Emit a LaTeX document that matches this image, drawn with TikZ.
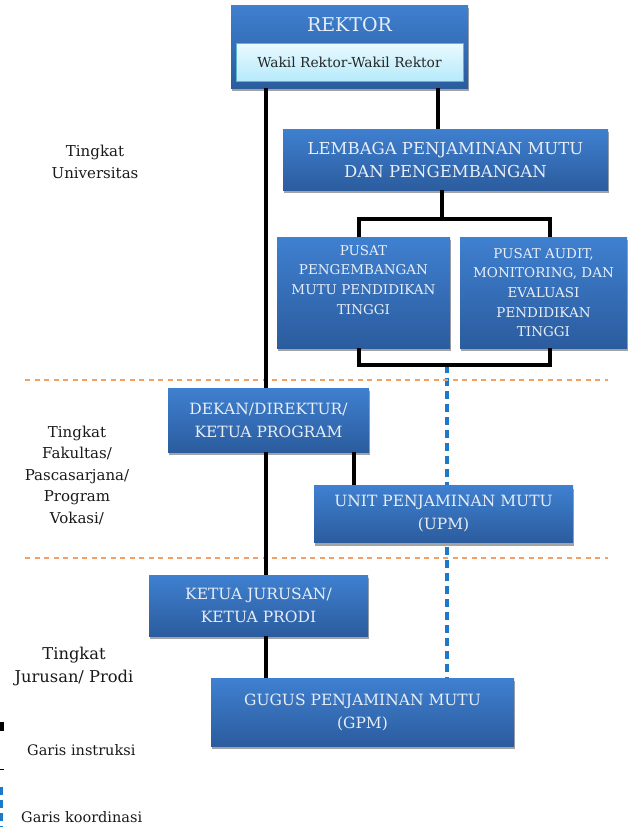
\documentclass[tikz,border=0pt]{standalone}
\usepackage{fontspec}
\setmainfont{DejaVu Serif}
\usetikzlibrary{shadows,calc,backgrounds}
\definecolor{boxtop}{HTML}{3F80D0}
\definecolor{boxbot}{HTML}{2B5C9E}
\definecolor{boxtxt}{HTML}{E8EEF6}
\definecolor{innertop}{HTML}{EAFAFF}
\definecolor{innerbot}{HTML}{B5EAFA}
\definecolor{innerbd}{HTML}{5DB5CF}
\definecolor{orangeln}{HTML}{F2A064}
\definecolor{blueln}{HTML}{1E78C8}
\begin{document}
\begin{tikzpicture}[x=1pt,y=-1pt,
  bluebox/.style={draw=none, top color=boxtop, bottom color=boxbot,
    drop shadow={shadow xshift=1pt, shadow yshift=-3pt, fill=black!45, opacity=0.8},
    text=boxtxt, align=center, inner sep=0pt, font=\fontsize{15.5}{23}\selectfont},
  instr/.style={line width=4.5pt, black},
  coord/.style={line width=3.5pt, blueln, dash pattern=on 8pt off 5pt},
  level/.style={line width=1.4pt, orangeln, dash pattern=on 5pt off 4.5pt},
  lbl/.style={align=center, inner sep=0pt, text=black!90, font=\fontsize{15}{21.5}\selectfont}]
\useasboundingbox (0,0) rectangle (627,827);

% level separators
\draw[level] (25,380) -- (608,380);
\draw[level] (25,558) -- (608,558);

% boxes
\node[bluebox, minimum width=237pt, minimum height=83pt] (rektor) at (349.5,46.5) {};
\node[text=boxtxt, font=\fontsize{19}{24}\selectfont, inner sep=0pt] (rektort) at (349.5,25) {REKTOR};
\node[draw=innerbd, line width=0.8pt, top color=innertop, bottom color=innerbot,
  minimum width=227pt, minimum height=38pt, inner sep=0pt, text=black!85,
  font=\fontsize{13.8}{18}\selectfont] (wakil) at (349.5,62) {Wakil Rektor-Wakil Rektor};

\node[bluebox, minimum width=325pt, minimum height=61pt, font=\fontsize{16.5}{23}\selectfont] (lembaga) at (445.5,159.5)
  {LEMBAGA PENJAMINAN MUTU\\DAN PENGEMBANGAN};
\node[bluebox, minimum width=173pt, minimum height=111pt, font=\fontsize{13.5}{19.6}\selectfont] (pusat1) at (363.5,292.5)
  {PUSAT\\PENGEMBANGAN\\MUTU PENDIDIKAN\\TINGGI\\[6pt]};
\node[bluebox, minimum width=167pt, minimum height=111pt, font=\fontsize{13.5}{19.6}\selectfont] (pusat2) at (543.5,292.5)
  {PUSAT AUDIT,\\MONITORING, DAN\\EVALUASI\\PENDIDIKAN\\TINGGI};
\node[bluebox, minimum width=201pt, minimum height=64pt] (dekan) at (268.5,420)
  {DEKAN/DIREKTUR/\\KETUA PROGRAM};
\node[bluebox, minimum width=259pt, minimum height=57pt] (upm) at (443.5,514)
  {UNIT PENJAMINAN MUTU\\(UPM)};
\node[bluebox, minimum width=219pt, minimum height=61pt] (ketua) at (258.5,605.5)
  {KETUA JURUSAN/\\KETUA PRODI};
\node[bluebox, minimum width=303pt, minimum height=68pt] (gpm) at (362.5,712)
  {GUGUS PENJAMINAN MUTU\\(GPM)};

% coordinates for connector columns
\coordinate (cl) at (266,0);
\coordinate (cr) at (438,0);
\coordinate (cm) at (442,0);
\coordinate (cu) at (354,0);
\coordinate (p1) at (359,0);
\coordinate (p2) at (550,0);
\coordinate (cb) at (447,0);
\coordinate (jtop) at (0,219);
\coordinate (jbot) at (0,365);

% instruction lines
\draw[instr] (rektor.south -| cl) -- (dekan.north -| cl);
\draw[instr] (rektor.south -| cr) -- (lembaga.north -| cr);
\draw[instr] (lembaga.south -| cm) -- (jtop -| cm);
\draw[instr, line join=miter] (pusat1.north -| p1) -- (jtop -| p1) -- (jtop -| p2) -- (pusat2.north -| p2);
\draw[instr, line join=miter] (pusat1.south -| p1) -- (jbot -| p1) -- (jbot -| p2) -- (pusat2.south -| p2);
\draw[instr] (dekan.south -| cl) -- (ketua.north -| cl);
\draw[instr] (ketua.south -| cl) -- (gpm.north -| cl);
\draw[instr] (dekan.south -| cu) -- (upm.north -| cu);

% coordination line (behind the boxes)
\begin{scope}[on background layer]
\draw[coord] (jbot -| cb) -- (gpm.north -| cb);
\end{scope}

% level labels
\node[lbl] (univ) at (95,162) {Tingkat\\Universitas};
\node[lbl] (fak) at (77,475) {Tingkat\\Fakultas/\\Pascasarjana/\\Program\\Vokasi/};
\node[lbl, font=\fontsize{16.3}{23}\selectfont] (prodi) at (74,666.5) {Tingkat\\Jurusan/ Prodi};

% legend
\coordinate (li1) at (1.5,722);
\coordinate (li2) at (1.5,731);
\draw[line width=4pt, black] (li1) -- (li2);
\coordinate (li3) at (0,769);
\coordinate (li4) at (4,769);
\draw[line width=1pt, black] (li3) -- (li4);
\node[lbl, font=\fontsize{14.5}{18}\selectfont, anchor=west] (gi) at (27,750) {Garis instruksi};
\coordinate (lk1) at (1.5,787);
\coordinate (lk2) at (1.5,827);
\draw[coord] (lk1) -- (lk2);
\node[lbl, font=\fontsize{14.5}{18}\selectfont, anchor=west] (gk) at (21,817) {Garis koordinasi};
\end{tikzpicture}
\end{document}
